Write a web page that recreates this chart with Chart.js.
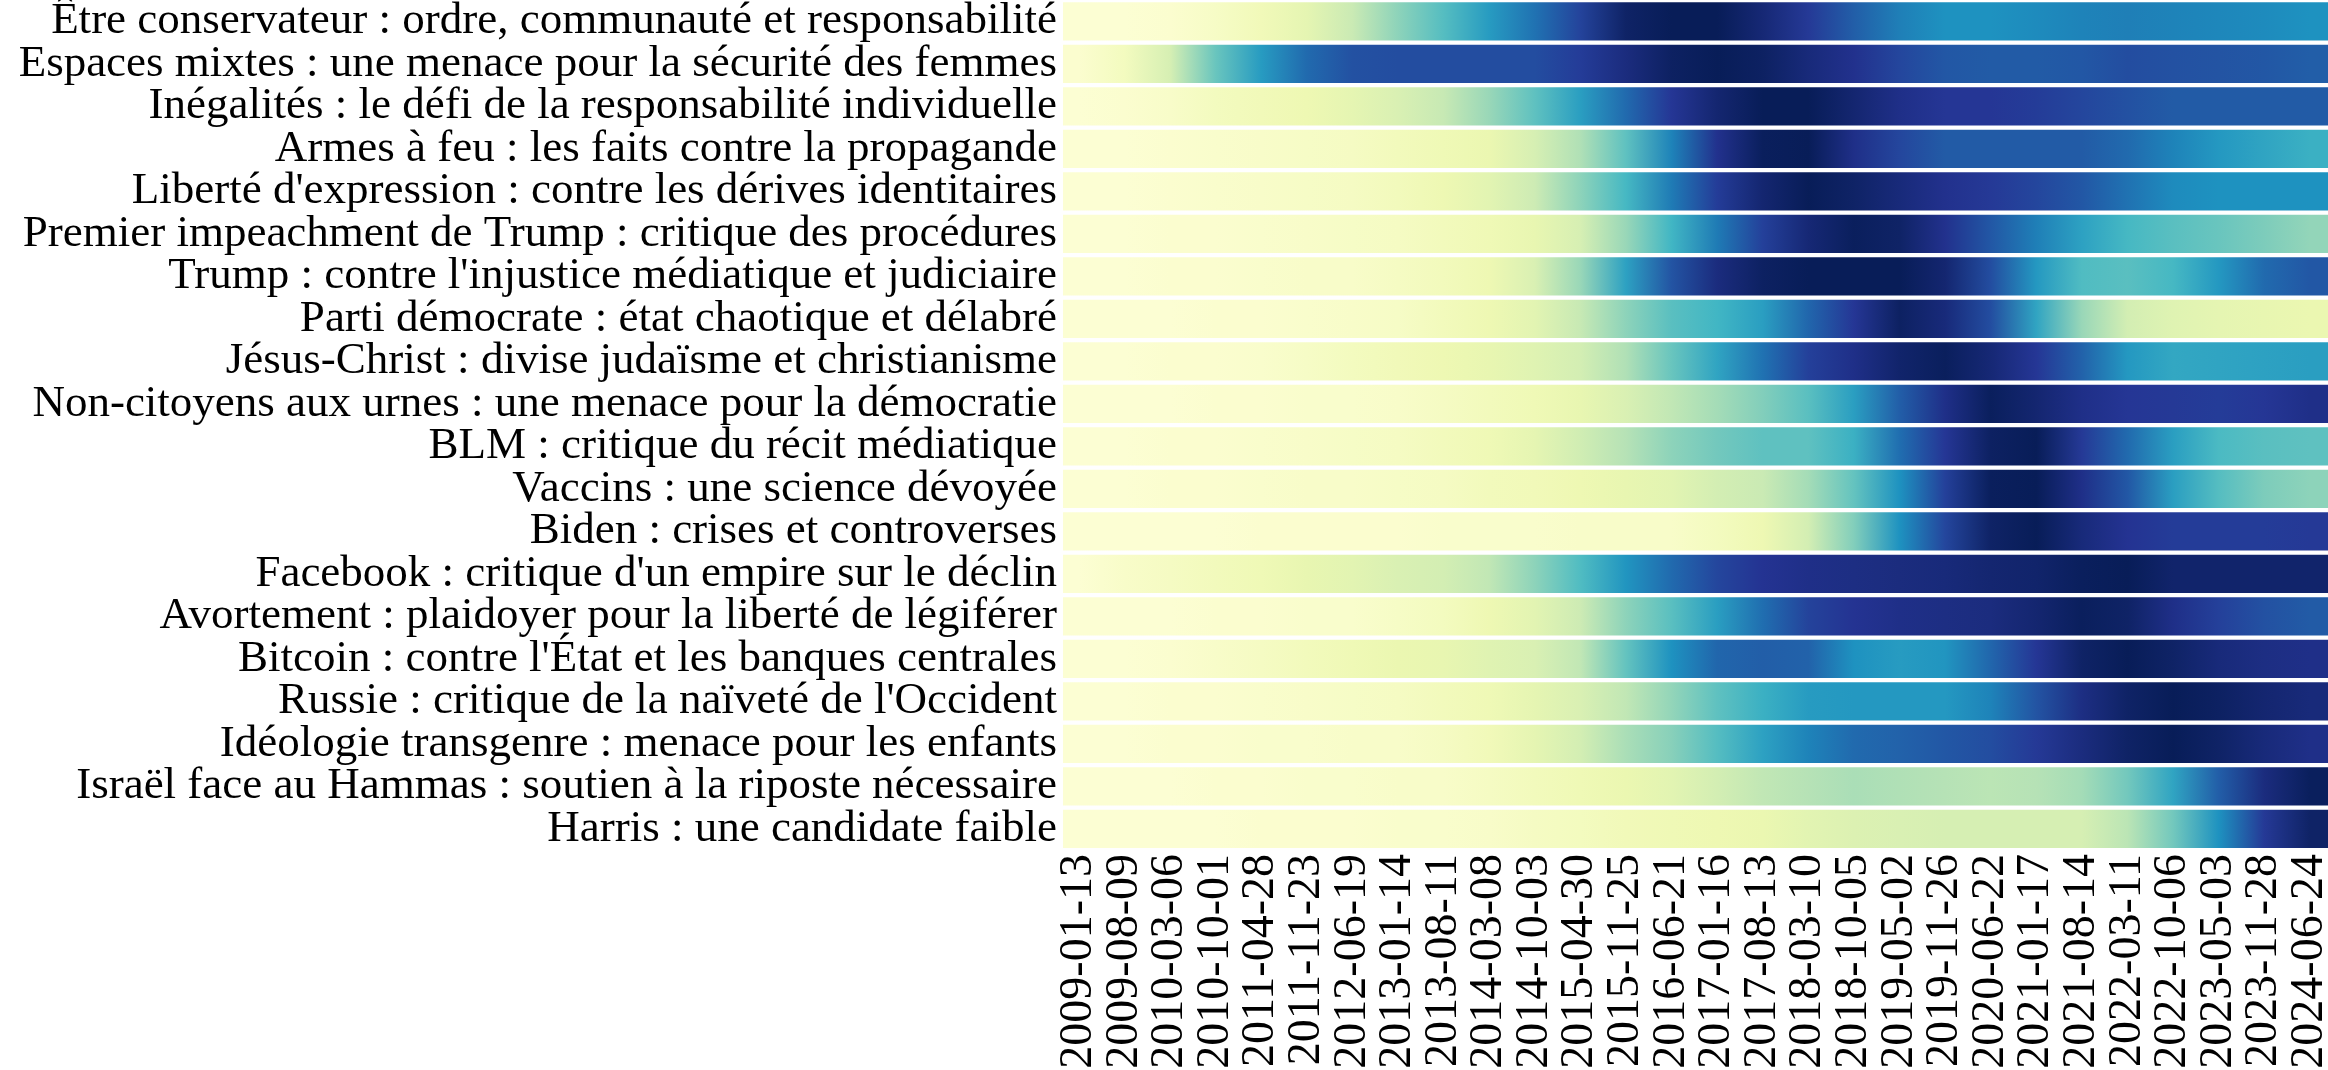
<!DOCTYPE html>
<html>
<head>
<meta charset="utf-8">
<style>
  html, body { margin: 0; padding: 0; background: #fff; }
</style>
</head>
<body>
<canvas id="heatmap" width="2328" height="1070"></canvas>
<script src="https://cdn.jsdelivr.net/npm/chart.js"></script>
<script>
const topics = [
  "Être conservateur : ordre, communauté et responsabilité",
  "Espaces mixtes : une menace pour la sécurité des femmes",
  "Inégalités : le défi de la responsabilité individuelle",
  "Armes à feu : les faits contre la propagande",
  "Liberté d'expression : contre les dérives identitaires",
  "Premier impeachment de Trump : critique des procédures",
  "Trump : contre l'injustice médiatique et judiciaire",
  "Parti démocrate : état chaotique et délabré",
  "Jésus-Christ : divise judaïsme et christianisme",
  "Non-citoyens aux urnes : une menace pour la démocratie",
  "BLM : critique du récit médiatique",
  "Vaccins : une science dévoyée",
  "Biden : crises et controverses",
  "Facebook : critique d'un empire sur le déclin",
  "Avortement : plaidoyer pour la liberté de légiférer",
  "Bitcoin : contre l'État et les banques centrales",
  "Russie : critique de la naïveté de l'Occident",
  "Idéologie transgenre : menace pour les enfants",
  "Israël face au Hammas : soutien à la riposte nécessaire",
  "Harris : une candidate faible"
];

const dates = [
  "2009-01-13", "2009-08-09", "2010-03-06", "2010-10-01", "2011-04-28", "2011-11-23",
  "2012-06-19", "2013-01-14", "2013-08-11", "2014-03-08", "2014-10-03", "2015-04-30",
  "2015-11-25", "2016-06-21", "2017-01-16", "2017-08-13", "2018-03-10", "2018-10-05",
  "2019-05-02", "2019-11-26", "2020-06-22", "2021-01-17", "2021-08-14", "2022-03-11",
  "2022-10-06", "2023-05-03", "2023-11-28", "2024-06-24"
];

// normalised intensity (0..1) of each topic, read at each date tick
const conservateur = [.02,.02,.03,.06,.10,.15,.24,.35,.46,.59,.70,.83,.97,1.0,1.0,.94,.86,.75,.67,.62,.62,.64,.66,.67,.66,.65,.64,.62];
const espacesMixtes = [.03,.08,.20,.42,.59,.72,.79,.80,.80,.80,.80,.85,.92,.98,1.0,.98,.93,.89,.82,.77,.76,.76,.77,.80,.79,.78,.77,.75];
const inegalites = [.02,.03,.05,.08,.10,.12,.15,.19,.25,.33,.44,.58,.72,.87,.95,1.0,1.0,.95,.90,.87,.87,.85,.82,.79,.76,.76,.76,.76];
const armes = [.02,.02,.03,.04,.05,.06,.07,.09,.11,.13,.20,.29,.44,.66,.89,.99,1.0,.90,.82,.76,.76,.76,.76,.72,.66,.60,.56,.52];
const liberte = [.02,.02,.03,.04,.05,.06,.07,.09,.12,.16,.23,.35,.49,.68,.85,.95,1.0,.97,.93,.89,.86,.82,.77,.70,.64,.62,.62,.62];
const impeachment = [.02,.02,.03,.03,.04,.05,.06,.07,.09,.11,.14,.20,.33,.50,.68,.84,.94,.99,.97,.89,.77,.67,.57,.49,.45,.42,.38,.34];
const trumpJustice = [.02,.02,.03,.03,.04,.05,.05,.07,.09,.12,.19,.33,.57,.78,.92,.98,1.0,1.0,1.0,.95,.80,.60,.47,.45,.49,.60,.72,.77];
const partiDemocrate = [.02,.02,.02,.03,.03,.04,.05,.06,.09,.12,.16,.25,.35,.45,.50,.58,.73,.87,.98,.93,.80,.56,.33,.21,.17,.15,.14,.13];
const jesus = [.02,.02,.03,.03,.04,.06,.08,.10,.12,.14,.17,.21,.29,.42,.56,.70,.84,.90,.96,.99,.94,.87,.74,.60,.55,.56,.57,.58];
const nonCitoyens = [.02,.02,.02,.03,.03,.04,.04,.05,.07,.09,.11,.14,.19,.26,.31,.37,.45,.58,.75,.90,.99,.95,.90,.87,.86,.85,.87,.90];
const blm = [.02,.02,.03,.03,.04,.05,.06,.07,.09,.11,.15,.22,.28,.35,.40,.44,.44,.52,.71,.87,.98,1.0,.86,.72,.58,.48,.45,.44];
const vaccins = [.02,.02,.03,.03,.04,.05,.05,.06,.07,.09,.10,.12,.14,.16,.21,.24,.31,.43,.62,.84,.99,1.0,.90,.77,.58,.46,.38,.35];
const biden = [.02,.02,.02,.02,.03,.03,.03,.03,.04,.04,.04,.05,.05,.05,.08,.12,.21,.37,.62,.82,.97,1.0,.93,.88,.85,.85,.85,.86];
const facebook = [.02,.05,.07,.09,.11,.14,.16,.19,.21,.26,.35,.47,.61,.72,.82,.88,.90,.91,.92,.93,.95,.96,.99,1.0,.96,.96,.96,.96];
const avortement = [.02,.02,.02,.03,.03,.04,.04,.06,.08,.12,.16,.23,.35,.45,.58,.71,.83,.88,.90,.91,.92,.95,.99,.97,.90,.84,.79,.76];
const bitcoin = [.02,.02,.03,.05,.07,.09,.11,.13,.14,.17,.19,.26,.43,.62,.73,.75,.74,.62,.59,.61,.73,.87,.97,1.0,.97,.93,.91,.90];
const russie = [.02,.02,.03,.03,.04,.05,.06,.07,.09,.11,.15,.19,.26,.34,.44,.52,.59,.60,.60,.60,.66,.78,.91,.97,1.0,.98,.95,.93];
const transgenre = [.02,.02,.03,.03,.04,.04,.05,.05,.07,.10,.15,.21,.30,.36,.46,.57,.66,.72,.74,.77,.80,.86,.92,.97,1.0,.97,.93,.90];
const israel = [.02,.02,.02,.03,.03,.04,.04,.05,.05,.07,.09,.11,.13,.16,.21,.26,.28,.30,.29,.28,.27,.28,.31,.40,.56,.75,.92,.99];
const harris = [.02,.02,.02,.02,.03,.03,.03,.04,.04,.05,.07,.08,.10,.11,.12,.13,.16,.18,.19,.20,.20,.20,.20,.27,.40,.62,.86,.97];

const rows = [conservateur, espacesMixtes, inegalites, armes, liberte, impeachment, trumpJustice,
  partiDemocrate, jesus, nonCitoyens, blm, vaccins, biden, facebook, avortement, bitcoin,
  russie, transgenre, israel, harris];

// YlGnBu colormap
const ylgnbu = [
  [255, 255, 217], [237, 248, 177], [199, 233, 180], [127, 205, 187], [65, 182, 196],
  [29, 145, 192], [34, 94, 168], [37, 52, 148], [8, 29, 88]
];
function cmap(v) {
  const t = Math.max(0, Math.min(1, v)) * (ylgnbu.length - 1);
  const i = Math.min(Math.floor(t), ylgnbu.length - 2);
  const f = t - i;
  const a = ylgnbu[i], b = ylgnbu[i + 1];
  const c = a.map((x, k) => Math.round(x + (b[k] - x) * f));
  return `rgb(${c[0]},${c[1]},${c[2]})`;
}

const xMin = -0.35, xMax = dates.length - 0.6;

function rowFill(ctx) {
  const chart = ctx.chart;
  if (!chart.chartArea) return '#ffffd9';
  const xs = chart.scales.x;
  const vals = rows[ctx.dataIndex];
  const g = chart.ctx.createLinearGradient(xs.left, 0, xs.right, 0);
  vals.forEach((v, i) => {
    const p = (xs.getPixelForValue(i) - xs.left) / (xs.right - xs.left);
    g.addColorStop(Math.max(0, Math.min(1, p)), cmap(v));
  });
  return g;
}

new Chart(document.getElementById('heatmap'), {
  type: 'bar',
  data: {
    labels: topics,
    datasets: [{
      data: topics.map(() => [xMin, xMax]),
      backgroundColor: rowFill,
      borderWidth: 0,
      borderSkipped: false,
      categoryPercentage: 1,
      barPercentage: 0.9
    }]
  },
  options: {
    indexAxis: 'y',
    responsive: false,
    animation: false,
    devicePixelRatio: 1,
    layout: { padding: 0 },
    plugins: { legend: { display: false }, tooltip: { enabled: false } },
    scales: {
      x: {
        type: 'linear',
        min: xMin,
        max: xMax,
        afterBuildTicks: (scale) => { scale.ticks = dates.map((d, i) => ({ value: i })); },
        afterFit: (scale) => {
          scale.height = 220;
          scale.paddingLeft = 0;
          scale.paddingRight = 0;
        },
        grid: { display: false, drawTicks: false },
        border: { display: false },
        ticks: {
          autoSkip: false,
          minRotation: 90,
          maxRotation: 90,
          padding: 4,
          color: '#000',
          font: { family: 'Liberation Serif', size: 46 },
          callback: (v) => dates[v]
        }
      },
      y: {
        afterFit: (scale) => {
          scale.width = 1063;
          scale.paddingTop = 0;
          scale.paddingBottom = 0;
        },
        grid: { display: false, drawTicks: false },
        border: { display: false },
        ticks: {
          autoSkip: false,
          padding: 6,
          color: '#000',
          font: { family: 'Liberation Serif', size: 45 }
        }
      }
    }
  }
});
</script>
</body>
</html>
